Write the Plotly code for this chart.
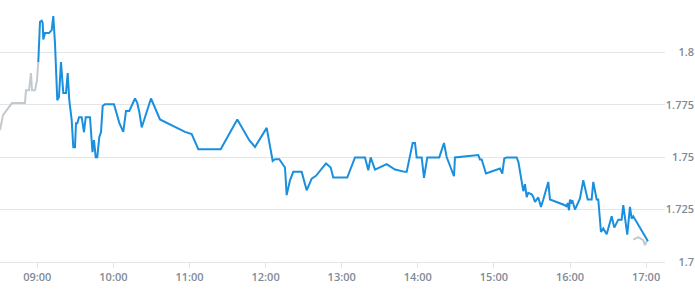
import plotly.graph_objects as go

DAY = "2024-01-02 "

pre_times = ["08:30:36", "08:32:58", "08:40:03", "08:50:18", "08:51:05", "08:53:28",
             "08:55:02", "08:55:49", "08:58:11", "08:59:46", "09:00:47"]
pre_values = [1.7629, 1.7701, 1.7758, 1.7758, 1.7820, 1.7820,
              1.7901, 1.7820, 1.7820, 1.7868, 1.7954]

main_times = [
    "09:00:47", "09:02:08", "09:03:28", "09:04:15", "09:04:44", "09:06:04", "09:09:13",
    "09:11:21", "09:12:37", "09:13:57", "09:15:46", "09:17:06", "09:18:41", "09:20:30",
    "09:22:38", "09:23:58", "09:25:14", "09:27:07", "09:28:23", "09:29:43", "09:30:31",
    "09:31:32", "09:32:53", "09:35:00", "09:36:49", "09:38:10", "09:41:33", "09:42:53",
    "09:43:31", "09:44:42", "09:46:02", "09:47:18", "09:48:53", "09:50:13", "09:51:34",
    "09:53:22", "10:00:28", "10:04:39", "10:07:48", "10:09:56", "10:12:32", "10:17:02",
    "10:18:50", "10:20:25", "10:22:19", "10:29:38", "10:36:44", "10:56:27", "11:01:44",
    "11:06:56", "11:24:35", "11:37:41", "11:47:08", "11:51:38", "12:00:52", "12:05:35",
    "12:07:24", "12:10:47", "12:15:17", "12:16:37", "12:19:14", "12:21:50", "12:28:27",
    "12:32:23", "12:36:20", "12:39:44", "12:47:37", "12:51:19", "12:53:22", "13:04:24",
    "13:07:52", "13:10:29", "13:18:22", "13:20:58", "13:22:51", "13:26:14", "13:35:28",
    "13:42:01", "13:49:53", "13:51:14", "13:55:58", "13:57:47", "13:59:07", "14:03:04",
    "14:04:53", "14:07:29", "14:16:56", "14:20:39", "14:22:46", "14:28:32", "14:29:19",
    "14:45:52", "14:47:41", "14:49:01", "14:50:22", "14:53:45", "15:04:47", "15:06:36",
    "15:08:11", "15:10:04", "15:17:57", "15:19:22", "15:21:35", "15:23:10", "15:24:30",
    "15:25:50", "15:27:06", "15:29:47", "15:31:03", "15:32:23", "15:34:59", "15:37:07",
    "15:38:56", "15:42:53", "15:44:13", "15:56:03", "15:57:23", "15:58:10", "15:59:12",
    "15:59:59", "16:00:46", "16:01:48", "16:03:55", "16:07:52", "16:10:28", "16:13:56",
    "16:17:05", "16:18:21", "16:21:02", "16:22:17", "16:24:25", "16:26:14", "16:28:55",
    "16:32:51", "16:34:54", "16:38:04", "16:40:44", "16:42:00", "16:45:09", "16:47:17",
    "16:48:37", "16:49:53", "17:01:28"]
main_values = [
    1.7954, 1.8146, 1.8151, 1.8140, 1.8062, 1.8092, 1.8092,
    1.8106, 1.8173, 1.8044, 1.7772, 1.7787, 1.7954, 1.7806,
    1.7806, 1.7901, 1.7772, 1.7677, 1.7548, 1.7548, 1.7662,
    1.7662, 1.7691, 1.7691, 1.7619, 1.7691, 1.7691, 1.7596,
    1.7524, 1.7581, 1.7500, 1.7500, 1.7596, 1.7619, 1.7744,
    1.7753, 1.7753, 1.7664, 1.7621, 1.7721, 1.7721, 1.7780,
    1.7759, 1.7716, 1.7642, 1.7780, 1.7680, 1.7621, 1.7610,
    1.7538, 1.7538, 1.7680, 1.7581, 1.7549, 1.7640, 1.7482,
    1.7490, 1.7490, 1.7451, 1.7319, 1.7390, 1.7430, 1.7430,
    1.7342, 1.7398, 1.7411, 1.7470, 1.7451, 1.7403, 1.7403,
    1.7457, 1.7499, 1.7499, 1.7438, 1.7499, 1.7441, 1.7467,
    1.7441, 1.7430, 1.7430, 1.7568, 1.7568, 1.7499, 1.7499,
    1.7401, 1.7499, 1.7499, 1.7568, 1.7501, 1.7409, 1.7499,
    1.7510, 1.7510, 1.7489, 1.7489, 1.7422, 1.7446, 1.7422,
    1.7494, 1.7499, 1.7499, 1.7476, 1.7390, 1.7338, 1.7371,
    1.7310, 1.7330, 1.7323, 1.7310, 1.7287, 1.7308, 1.7263,
    1.7298, 1.7382, 1.7298, 1.7271, 1.7263, 1.7282, 1.7247,
    1.7298, 1.7279, 1.7295, 1.7250, 1.7303, 1.7390, 1.7298,
    1.7298, 1.7382, 1.7298, 1.7298, 1.7143, 1.7160, 1.7132,
    1.7218, 1.7164, 1.7202, 1.7202, 1.7271, 1.7131, 1.7263,
    1.7207, 1.7218, 1.7099]

post_times = ["16:49:53", "16:53:49", "16:57:46", "16:59:06", "17:00:26"]
post_values = [1.7107, 1.7119, 1.7104, 1.7080, 1.7100]

x_tick_labels = ["09:00", "10:00", "11:00", "12:00", "13:00", "14:00", "15:00", "16:00", "17:00"]
y_tick_values = [1.7, 1.725, 1.75, 1.775, 1.8]
x_range = ["08:30:36", "17:14:54"]
y_range = [1.7, 1.825]

BLUE = "#1a8fde"
GREY = "#c4c9ce"
GRID = "#e3e6e9"
LABEL = "#7f8a96"

fig = go.Figure()
fig.add_trace(go.Scatter(x=[DAY + t for t in pre_times], y=pre_values, mode="lines",
                         line=dict(color=GREY, width=2), hoverinfo="skip"))
fig.add_trace(go.Scatter(x=[DAY + t for t in post_times], y=post_values, mode="lines",
                         line=dict(color=GREY, width=2), hoverinfo="skip"))
fig.add_trace(go.Scatter(x=[DAY + t for t in main_times], y=main_values, mode="lines",
                         line=dict(color=BLUE, width=2)))

tf = dict(family="Open Sans", size=11, color=LABEL, weight=600)

fig.update_layout(
    width=695, height=300,
    margin=dict(l=0, r=0, t=0, b=38),
    paper_bgcolor="white", plot_bgcolor="white",
    showlegend=False,
    font=dict(family="Open Sans", size=11, color=LABEL),
    xaxis=dict(
        domain=[0, 665 / 695],
        type="date",
        range=[DAY + x_range[0], DAY + x_range[1]],
        tickvals=[DAY + t for t in x_tick_labels],
        ticktext=x_tick_labels,
        showgrid=False, zeroline=False,
        showline=True, linecolor=GRID, linewidth=1,
        ticks="outside", ticklen=5, tickcolor=GRID, tickwidth=1,
        tickfont=tf,
    ),
    yaxis=dict(
        range=y_range,
        anchor="free", position=1.0, side="left",
        tickvals=y_tick_values,
        ticktext=[f"{v:g}" for v in y_tick_values],
        showgrid=True, gridcolor=GRID, gridwidth=1,
        zeroline=False, showline=False, ticks="",
        ticklabelstandoff=1,
        tickfont=tf,
    ),
)

fig.write_html("out.html")
